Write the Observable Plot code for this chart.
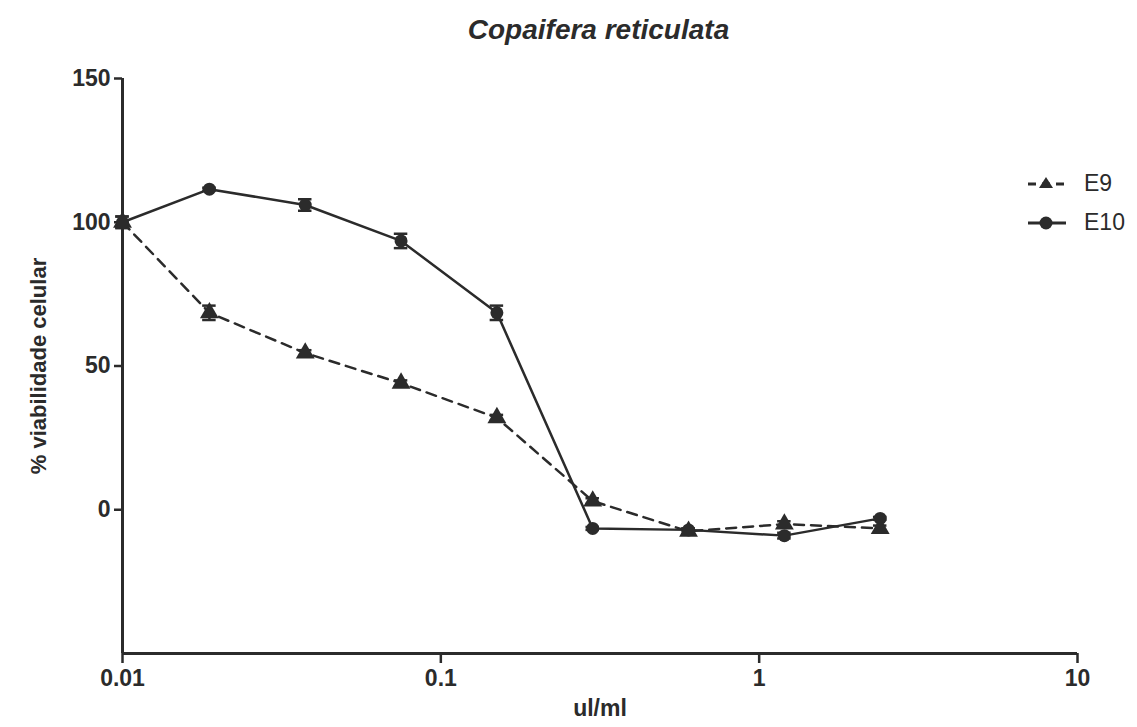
<!DOCTYPE html>
<html>
<head>
<meta charset="utf-8">
<script src="https://cdn.jsdelivr.net/npm/d3@7"></script>
<script src="https://cdn.jsdelivr.net/npm/@observablehq/plot@0.6"></script>
<style>
  html, body { margin: 0; padding: 0; background: #fff; }
  #wrap { position: relative; width: 1137px; height: 727px; font-family: "Liberation Sans", Arial, sans-serif; color: #2b2b2b; }
  #title { position: absolute; left: 0; width: 1137px; top: 14px; text-align: center; font-size: 28px; font-weight: bold; font-style: italic; padding-left: 60px; box-sizing: border-box; }
  #legend { position: absolute; left: 1028px; top: 164px; font-size: 23px; }
  .item { display: flex; align-items: center; height: 39px; }
  .item svg { margin-right: 18px; }
</style>
</head>
<body>
<div id="wrap">
  <div id="chart"></div>
  <div id="title">Copaifera reticulata</div>
  <div id="legend"></div>
</div>
<script>
const titleText = "Copaifera reticulata";
const xLabel = "ul/ml";
const yLabel = "% viabilidade celular";
const xTicks = [0.01, 0.1, 1, 10];
const yTicks = [0, 50, 100, 150];
const seriesNames = ["E9", "E10"];
const concentrations = [0.01, 0.01875, 0.0375, 0.075, 0.15, 0.3, 0.6, 1.2, 2.4];
const e9 = [100, 68.5, 54.5, 44, 32, 3, -7.5, -5, -6.5];
const e9Err = [2, 2.5, 1, 1, 1, 1, 1, 1, 1];
const e10 = [100, 111.5, 106, 93.5, 68.5, -6.5, -7, -9, -3];
const e10Err = [2, 0.5, 2, 2.5, 2.5, 0.5, 0.5, 1, 0.5];

const ink = "#2b2b2b";
const rows9 = concentrations.map((c, i) => ({x: c, y: e9[i], e: e9Err[i]}));
const rows10 = concentrations.map((c, i) => ({x: c, y: e10[i], e: e10Err[i]}));
const capF = 1.05;

function errMarks(rows) {
  return [
    Plot.ruleX(rows, {x: "x", y1: d => d.y - d.e, y2: d => d.y + d.e, stroke: ink, strokeWidth: 2.5}),
    Plot.ruleY(rows, {y: d => d.y - d.e, x1: d => d.x / capF, x2: d => d.x * capF, stroke: ink, strokeWidth: 2.5}),
    Plot.ruleY(rows, {y: d => d.y + d.e, x1: d => d.x / capF, x2: d => d.x * capF, stroke: ink, strokeWidth: 2.5})
  ];
}

const chart = Plot.plot({
  width: 1137,
  height: 727,
  marginLeft: 122,
  marginRight: 60,
  marginTop: 78,
  marginBottom: 74,
  style: {fontFamily: "'Liberation Sans', Arial, sans-serif", color: ink, background: "#fff", fontSize: "23px"},
  x: {type: "log", domain: [0.01, 10]},
  y: {domain: [-50, 150]},
  marks: [
    Plot.ruleX([0.01], {y1: -50, y2: 150, stroke: ink, strokeWidth: 3}),
    Plot.ruleY([-50], {x1: 0.01, x2: 10, stroke: ink, strokeWidth: 3}),
    Plot.axisX(xTicks, {tickSize: 10, tickPadding: 6, tickFormat: d => String(d), fontSize: 23, fontWeight: "bold", strokeWidth: 2.5, label: null}),
    Plot.axisX({ticks: [], label: xLabel, labelAnchor: "center", labelOffset: 62, labelArrow: "none", fontSize: 23, fontWeight: "bold", tickSize: 0}),
    Plot.axisY(yTicks, {tickSize: 8, tickPadding: 4, fontSize: 23, fontWeight: "bold", strokeWidth: 2.5, label: null}),
    Plot.axisY({ticks: [], label: yLabel, labelAnchor: "center", labelOffset: 92, labelArrow: "none", fontSize: 22, fontWeight: "bold", tickSize: 0}),
    Plot.line(rows9, {x: "x", y: "y", stroke: ink, strokeWidth: 2.5, strokeDasharray: "10,7"}),
    Plot.line(rows10, {x: "x", y: "y", stroke: ink, strokeWidth: 2.5}),
    ...errMarks(rows9),
    ...errMarks(rows10),
    Plot.dot(rows9, {x: "x", y: "y", symbol: "triangle", r: 7, fill: ink}),
    Plot.dot(rows10, {x: "x", y: "y", symbol: "circle", r: 6.5, fill: ink})
  ]
});
document.getElementById("chart").appendChild(chart);
document.getElementById("title").textContent = titleText;

const legend = document.getElementById("legend");
seriesNames.forEach((name, i) => {
  const item = document.createElement("div");
  item.className = "item";
  const dashed = i === 0;
  const sym = dashed
    ? `<path d="M18,5 L25,16 L11,16 Z" fill="${ink}"/>`
    : `<circle cx="18" cy="12" r="6.5" fill="${ink}"/>`;
  const line = dashed
    ? `<line x1="0" y1="12" x2="38" y2="12" stroke="${ink}" stroke-width="3" stroke-dasharray="8,6"/>`
    : `<line x1="0" y1="12" x2="38" y2="12" stroke="${ink}" stroke-width="3"/>`;
  item.innerHTML = `<svg width="38" height="24">${line}${sym}</svg><span>${name}</span>`;
  legend.appendChild(item);
});
</script>
</body>
</html>
